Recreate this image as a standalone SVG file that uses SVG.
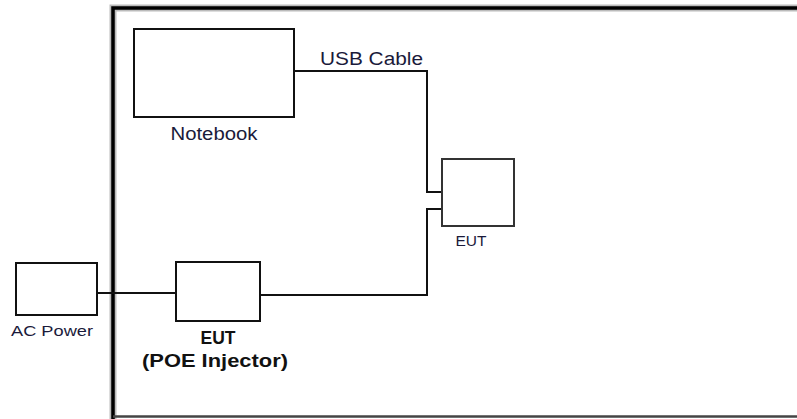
<svg xmlns="http://www.w3.org/2000/svg" width="797" height="419" viewBox="0 0 797 419">
<style>
.box{fill:#fff;stroke:#111;stroke-width:2}
.wire{fill:none;stroke:#111;stroke-width:2}
.lbl{font-family:"Liberation Sans",Arial,sans-serif;fill:#1a1a3a}
.bold{font-weight:bold;fill:#111}
</style>
<rect width="797" height="419" fill="#fff"/>
<g id="frame">
<path d="M113,419 V8 H797" fill="none" stroke="#bbb" stroke-width="7"/>
<path d="M113,419 V8 H797" fill="none" stroke="#000" stroke-width="3.5"/>
<line x1="113" y1="416.5" x2="797" y2="416.5" stroke="#444" stroke-width="2.5"/>
</g>
<g id="connectors">
<path class="wire" d="M294,71 H427 V192 H442"/>
<path class="wire" d="M442,209 H427 V295 H260"/>
<path class="wire" d="M97,293 H176"/>
</g>
<g id="notebook">
<rect class="box" x="134" y="29" width="160" height="88"/>
<text class="lbl" x="214" y="139.5" font-size="18" text-anchor="middle" textLength="87" lengthAdjust="spacingAndGlyphs">Notebook</text>
</g>
<text class="lbl" x="320" y="65" font-size="18" textLength="103" lengthAdjust="spacingAndGlyphs">USB Cable</text>
<g id="eut">
<rect class="box" x="442" y="159" width="72" height="67" style="stroke:#333"/>
<text class="lbl" x="471" y="246" font-size="15" text-anchor="middle" textLength="31" lengthAdjust="spacingAndGlyphs">EUT</text>
</g>
<g id="ac-power">
<rect class="box" x="16" y="263" width="81" height="52"/>
<text class="lbl" x="11" y="336" font-size="15" textLength="82" lengthAdjust="spacingAndGlyphs">AC Power</text>
</g>
<g id="poe-injector">
<rect class="box" x="176" y="262" width="84" height="59"/>
<text class="lbl bold" x="218" y="344" font-size="19" text-anchor="middle" textLength="35" lengthAdjust="spacingAndGlyphs">EUT</text>
<text class="lbl bold" x="215" y="367" font-size="19" text-anchor="middle" textLength="146" lengthAdjust="spacingAndGlyphs">(POE Injector)</text>
</g>
</svg>
